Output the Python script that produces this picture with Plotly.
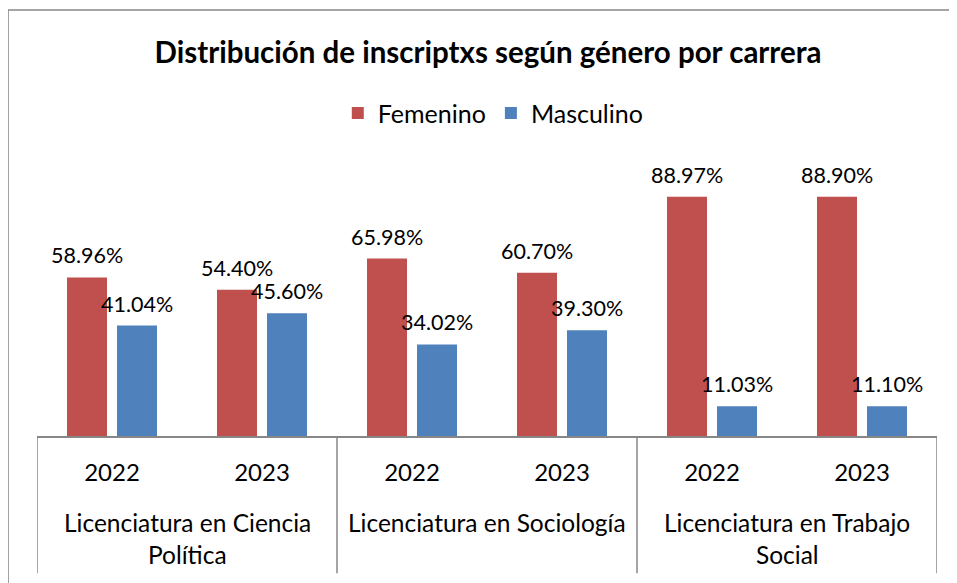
import plotly.graph_objects as go

# datos
years = ["2022", "2023", "2022", "2023", "2022", "2023"]
careers = [
    ["Licenciatura en Ciencia", "Política"],
    ["Licenciatura en Sociología"],
    ["Licenciatura en Trabajo", "Social"],
]
femenino = [58.96, 54.40, 65.98, 60.70, 88.97, 88.90]
masculino = [41.04, 45.60, 34.02, 39.30, 11.03, 11.10]

red = "#C0504D"
blue = "#4F81BD"
grey = "#878787"
font_family = "Lato, 'Open Sans', sans-serif"

x = list(range(len(years)))

fig = go.Figure()
fig.add_trace(go.Bar(x=x, y=femenino, name="Femenino", marker=dict(color=red, line=dict(width=0))))
fig.add_trace(go.Bar(x=x, y=masculino, name="Masculino", marker=dict(color=blue, line=dict(width=0))))

annotations = []
# etiquetas de datos
for vals, shift in ((femenino, -25), (masculino, 25)):
    for xi, v in zip(x, vals):
        annotations.append(dict(
            x=xi, y=v, xref="x", yref="y", text=f"{v:.2f}%",
            showarrow=False, xshift=shift, yshift=7, yanchor="bottom",
            font=dict(size=21.5, color="#000000", family=font_family),
        ))

# nombres de carrera (segundo nivel del eje)
for i, lines in enumerate(careers):
    for j, line in enumerate(lines):
        annotations.append(dict(
            x=2 * i + 0.5, y=-0.323 - j * 0.119, xref="x", yref="paper",
            text=line, showarrow=False, yanchor="middle",
            font=dict(size=24.5, color="#000000", family=font_family),
        ))

shapes = []
for b in [-0.5, 1.5, 3.5, 5.5]:
    shapes.append(dict(type="line", xref="x", yref="paper", x0=b, x1=b, y0=0, y1=-0.51,
                       line=dict(color=grey, width=1.5)))
# borde del gráfico (solo izquierda y arriba quedan a la vista)
shapes.append(dict(type="line", xref="paper", yref="paper", x0=-0.0322, x1=-0.0322, y0=-0.7, y1=1.5836,
                   line=dict(color=grey, width=1.5)))
shapes.append(dict(type="line", xref="paper", yref="paper", x0=-0.0322, x1=1.2, y0=1.5836, y1=1.5836,
                   line=dict(color=grey, width=1.5)))

fig.update_layout(
    width=949,
    height=575,
    margin=dict(l=29, r=20, t=159, b=147),
    paper_bgcolor="white",
    plot_bgcolor="white",
    barmode="group",
    bargap=1 / 3,
    bargroupgap=0.2,
    title=dict(
        text="<b>Distribución de inscriptxs según género por carrera</b>",
        x=480 / 949, xanchor="center", y=1 - 45 / 575, yanchor="middle",
        font=dict(size=29.5, color="#000000", family=font_family),
    ),
    legend=dict(
        orientation="h", x=0.507, xanchor="center", y=1.2, yanchor="middle",
        font=dict(size=25, color="#000000", family=font_family),
    ),
    annotations=annotations,
    shapes=shapes,
    showlegend=True,
)

fig.update_xaxes(
    tickmode="array", tickvals=x, ticktext=years, range=[-0.5, 5.5],
    showline=True, linecolor=grey, linewidth=1.5,
    ticks="outside", ticklen=14, tickcolor="rgba(0,0,0,0)",
    tickfont=dict(size=24, color="#000000", family=font_family),
    showgrid=False, zeroline=False,
)
fig.update_yaxes(range=[0, 100], visible=False, showgrid=False)

fig.write_html("out.html")
